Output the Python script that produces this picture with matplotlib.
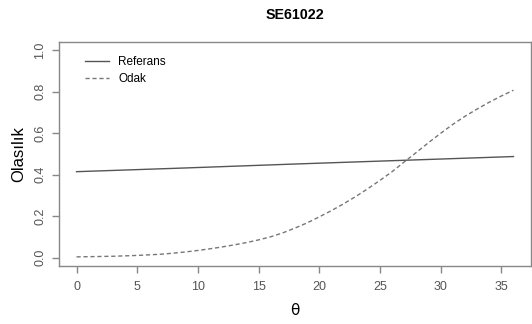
import matplotlib
matplotlib.use("Agg")
import matplotlib.pyplot as plt

plt.rcParams['font.family'] = ['Liberation Sans', 'DejaVu Sans']

# item characteristic curves for SE61022
theta_ref = [0, 9, 18, 27, 36]
p_ref = [0.415, 0.433, 0.452, 0.470, 0.488]

theta_focal = list(range(0, 37))
p_focal = [0.004, 0.005, 0.006, 0.007, 0.009, 0.011, 0.014, 0.017, 0.022, 0.028,
           0.035, 0.043, 0.052, 0.062, 0.073, 0.086, 0.101, 0.120, 0.143, 0.168,
           0.197, 0.227, 0.260, 0.295, 0.333, 0.373, 0.415, 0.462, 0.508, 0.555,
           0.600, 0.643, 0.682, 0.717, 0.750, 0.780, 0.808]

xticks = [0, 5, 10, 15, 20, 25, 30, 35]
yticks = [0.0, 0.2, 0.4, 0.6, 0.8, 1.0]

fig = plt.figure(figsize=(5.32, 3.24), dpi=100)
ax = fig.add_axes([0.111, 0.179, 0.887, 0.691])

ax.plot(theta_ref, p_ref, color='#555555', lw=1.0, label='Referans')
ax.plot(theta_focal, p_focal, color='#777777', lw=1.0, linestyle=(0, (3, 2)), label='Odak')

ax.set_xlim(-1.44, 37.44)
ax.set_ylim(-0.04, 1.04)
ax.set_xticks(xticks)
ax.set_xticklabels([str(t) for t in xticks])
ax.set_yticks(yticks)
ax.set_yticklabels(['%.1f' % t for t in yticks], rotation=90, va='center')

for s in ax.spines.values():
    s.set_color('#888888')
    s.set_linewidth(1.0)
ax.tick_params(axis='both', direction='out', length=5, width=1.0, color='#888888',
               labelcolor='#555555', labelsize=9)
ax.tick_params(axis='x', pad=6)
ax.tick_params(axis='y', pad=4)

ax.set_title('SE61022', fontsize=10.3, fontweight='bold', pad=17)
ax.set_xlabel('θ', fontsize=11, labelpad=7, family=['DejaVu Sans'])
ax.set_ylabel('Olasılık', fontsize=12, labelpad=6)

ax.legend(loc='upper left', frameon=False, fontsize=8.5, handlelength=2.0,
          borderaxespad=0.8, labelspacing=0.4, bbox_to_anchor=(0.025, 1.0))

fig.savefig('out.png', dpi=100)
